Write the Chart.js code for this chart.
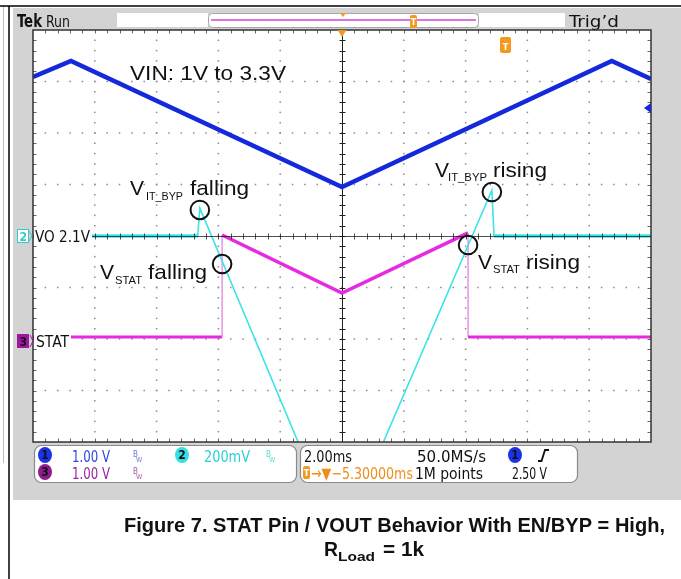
<!DOCTYPE html>
<html>
<head>
<meta charset="utf-8">
<script src="https://cdn.jsdelivr.net/npm/chart.js@4.4.1/dist/chart.umd.min.js"></script>
<style>
  body { margin: 0; background: #fff; }
  #wrap { width: 681px; height: 579px; }
</style>
</head>
<body>
<div id="wrap"><canvas id="scope" width="681" height="579"></canvas></div>
<script>
// time axis in ms (2.00 ms/div, 10 div), vertical in screen divisions (8 div)
const vinTime = [-10, -8.77, 0, 8.73, 10];
const vinDiv = [3.09, 3.40, 0.95, 3.40, 3.05];

const voTime = [-10, -4.67, -4.60, -1.42, 0, 1.34, 4.85, 4.92, 10];
const voDiv = [0, 0, 0.54, -4, null, -4, 0.89, 0, 0];

const statTime = [-10, -3.88, -3.88, 0, 4.08, 4.08, 10];
const statDiv = [-1.96, -1.96, 0.02, -1.11, 0.06, -1.96, -1.96];

const blue = "#1428dc";
const cyan = "#3ce4e8";
const magenta = "#e62ae0";
const TEK = '"DejaVu Sans Condensed","Liberation Sans Narrow","DejaVu Sans",sans-serif';
const ARIAL = '"Liberation Sans",Arial,sans-serif';

function pts(xs, ys) {
  return xs.map((x, i) => ({ x: x, y: ys[i] }));
}

// annotation texts, anchored in (ms, div)
const notes = [
  { t: -6.86, d: 0.796, sub: "IT_BYP", word: "falling", subDx: 16, subW: 37, wordDx: 60, wordW: 59 },
  { t: -7.83, d: -0.835, sub: "STAT", word: "falling", subDx: 15, subW: 27, wordDx: 48, wordW: 59 },
  { t: 3.01, d: 1.146, sub: "IT_BYP", word: "rising", subDx: 13, subW: 39, wordDx: 58, wordW: 54 },
  { t: 4.40, d: -0.64, sub: "STAT", word: "rising", subDx: 15, subW: 27, wordDx: 48, wordW: 54 }
];
const rings = [
  { t: -4.60, d: 0.505 },
  { t: -3.88, d: -0.544 },
  { t: 4.85, d: 0.854 },
  { t: 4.08, d: -0.175 }
];

function txt(c, s, x, y, font, color, w) {
  c.font = font;
  c.fillStyle = color;
  c.textAlign = "left";
  c.textBaseline = "alphabetic";
  if (w) {
    const m = c.measureText(s).width;
    c.save();
    c.translate(x, y);
    c.scale(w / m, 1);
    c.fillText(s, 0, 0);
    c.restore();
  } else {
    c.fillText(s, x, y);
  }
}

function badge(c, x, y, fill, label) {
  c.beginPath();
  c.ellipse(x, y, 7, 8, 0, 0, Math.PI * 2);
  c.fillStyle = fill;
  c.fill();
  c.font = "bold 12px " + TEK;
  c.fillStyle = "#111";
  c.textAlign = "center";
  c.textBaseline = "middle";
  c.fillText(label, x, y + 0.5);
  c.textAlign = "left";
  c.textBaseline = "alphabetic";
}

function bw(c, x, y, color) {
  txt(c, "B", x, y - 3, "8px " + TEK, color);
  txt(c, "W", x + 3, y + 2, "7px " + TEK, color);
}

function tBox(c, x, y, w, h) {
  c.fillStyle = "#f39a1e";
  c.beginPath();
  c.roundRect(x, y, w, h, 2);
  c.fill();
  c.font = "bold 9px " + TEK;
  c.fillStyle = "#fff";
  c.textAlign = "center";
  c.fillText("T", x + w / 2, y + h - 3);
  c.textAlign = "left";
}

const scopePlugin = {
  id: "scope",
  beforeDatasetsDraw(chart) {
    const c = chart.ctx;
    const a = chart.chartArea;
    const xs = chart.scales.x;
    const ys = chart.scales.y;
    c.save();
    // page
    c.fillStyle = "#fff";
    c.fillRect(0, 0, 681, 579);
    c.strokeStyle = "#bdbdbd";
    c.lineWidth = 1;
    c.beginPath(); c.moveTo(3.5, 6); c.lineTo(3.5, 463); c.stroke();
    c.strokeStyle = "#000";
    c.lineWidth = 1.5;
    c.beginPath(); c.moveTo(0, 6); c.lineTo(681, 6); c.stroke();
    c.beginPath(); c.moveTo(9, 6); c.lineTo(9, 579); c.stroke();
    // scope panel
    c.fillStyle = "#d3d3d3";
    c.fillRect(13, 8, 668, 492);
    // top bar
    txt(c, "Tek", 17, 27, "bold 17px " + TEK, "#111", 25);
    txt(c, "Run", 46, 27, "16px " + TEK, "#111", 24);
    c.fillStyle = "#fff";
    c.fillRect(117, 13, 91, 14);
    c.fillRect(479, 13, 86, 14);
    c.beginPath(); c.roundRect(208.5, 13.5, 270, 14, 4); c.fill();
    c.strokeStyle = "#a8a8a8"; c.lineWidth = 1; c.stroke();
    c.strokeStyle = "#d048d0"; c.lineWidth = 1.5;
    c.beginPath(); c.moveTo(211, 20); c.lineTo(476, 20); c.stroke();
    c.fillStyle = "#f39a1e";
    c.beginPath(); c.moveTo(340, 13); c.lineTo(346, 13); c.lineTo(343, 17); c.closePath(); c.fill();
    tBox(c, 410, 15, 7, 13);
    txt(c, "Trig\u2019d", 569, 27, "16px " + TEK, "#111", 50);
    // graticule
    c.fillStyle = "#fff";
    c.fillRect(a.left, a.top, a.right - a.left, a.bottom - a.top);
    c.fillStyle = "#8c8c8c";
    for (let t = -8; t <= 8; t += 2) {
      if (t === 0) continue;
      const x = xs.getPixelForValue(t);
      for (let k = 1; k < 40; k++) {
        const y = ys.getPixelForValue(-4 + k * 0.2);
        c.fillRect(x - 0.75, y - 0.75, 1.5, 1.5);
      }
    }
    for (let d = -3; d <= 3; d++) {
      if (d === 0) continue;
      const y = ys.getPixelForValue(d);
      for (let k = 1; k < 50; k++) {
        const x = xs.getPixelForValue(-10 + k * 0.4);
        c.fillRect(x - 0.75, y - 0.75, 1.5, 1.5);
      }
    }
    // edge ticks
    c.strokeStyle = "#666";
    c.lineWidth = 1;
    c.beginPath();
    for (let k = 1; k < 50; k++) {
      const x = Math.round(xs.getPixelForValue(-10 + k * 0.4)) + 0.5;
      c.moveTo(x, a.top); c.lineTo(x, a.top + 3.5);
      c.moveTo(x, a.bottom); c.lineTo(x, a.bottom - 3.5);
    }
    for (let k = 1; k < 40; k++) {
      const y = Math.round(ys.getPixelForValue(-4 + k * 0.2)) + 0.5;
      c.moveTo(a.left, y); c.lineTo(a.left + 3.5, y);
      c.moveTo(a.right, y); c.lineTo(a.right - 3.5, y);
    }
    c.stroke();
    // center vertical line with ticks
    const cx = Math.round(xs.getPixelForValue(0)) + 0.5;
    c.strokeStyle = "#222";
    c.beginPath();
    c.moveTo(cx, a.top); c.lineTo(cx, a.bottom);
    for (let k = 1; k < 40; k++) {
      const y = Math.round(ys.getPixelForValue(-4 + k * 0.2)) + 0.5;
      c.moveTo(cx - 3, y); c.lineTo(cx + 3, y);
    }
    c.stroke();
    c.restore();
  },
  afterDatasetsDraw(chart) {
    const c = chart.ctx;
    const a = chart.chartArea;
    const xs = chart.scales.x;
    const ys = chart.scales.y;
    const px = (t) => xs.getPixelForValue(t);
    const py = (d) => ys.getPixelForValue(d);
    c.save();
    // center horizontal line over the traces
    const cy = Math.round(py(0)) + 0.5;
    c.strokeStyle = "rgba(20,20,20,0.75)";
    c.lineWidth = 1;
    c.beginPath();
    c.moveTo(a.left, cy); c.lineTo(a.right, cy);
    for (let k = 1; k < 50; k++) {
      const x = Math.round(px(-10 + k * 0.4)) + 0.5;
      c.moveTo(x, cy - 3); c.lineTo(x, cy + 3);
    }
    c.stroke();
    // border
    c.strokeStyle = "#333";
    c.lineWidth = 1.5;
    c.strokeRect(a.left, a.top, a.right - a.left, a.bottom - a.top);
    // trigger markers
    c.fillStyle = "#f39a1e";
    c.beginPath(); c.moveTo(px(0) - 4.5, a.top); c.lineTo(px(0) + 4.5, a.top); c.lineTo(px(0), a.top + 7); c.closePath(); c.fill();
    tBox(c, 500, 37, 11, 16);
    c.fillStyle = blue;
    c.beginPath(); c.moveTo(644, 108); c.lineTo(651, 103); c.lineTo(651, 113); c.closePath(); c.fill();
    // channel labels on the left
    c.fillStyle = "#fff";
    c.fillRect(a.left + 1, py(0) - 7, 58, 13);
    c.fillRect(a.left + 1, py(-1.96) - 7, 37, 13);
    c.strokeStyle = "#2fc9cf"; c.lineWidth = 1;
    c.fillStyle = "#fff";
    c.fillRect(17.5, 229.5, 11, 13);
    c.strokeRect(17.5, 229.5, 11, 13);
    txt(c, "2", 19.5, 241, "bold 12px " + TEK, "#2fc9cf");
    c.beginPath(); c.moveTo(29, 231); c.lineTo(32, 236); c.lineTo(29, 241); c.stroke();
    txt(c, "VO 2.1V", 35, 242, "15px " + TEK, "#111", 55);
    c.fillStyle = "#9a1a9a";
    c.fillRect(17, 334, 12, 14);
    txt(c, "3", 19.5, 346, "bold 12px " + TEK, "#2a002a");
    c.strokeStyle = "#9a1a9a";
    c.beginPath(); c.moveTo(30, 335); c.lineTo(33, 341); c.lineTo(30, 347); c.stroke();
    txt(c, "STAT", 36, 347, "15px " + TEK, "#111", 33);
    // annotations
    txt(c, "VIN: 1V to 3.3V", px(-6.86), py(3.03), "21px " + ARIAL, "#111", 156);
    notes.forEach((n) => {
      const x = px(n.t), y = py(n.d);
      txt(c, "V", x, y, "21px " + ARIAL, "#111", 14);
      txt(c, n.sub, x + n.subDx, y + 4.5, "11px " + ARIAL, "#111", n.subW);
      txt(c, n.word, x + n.wordDx, y, "21px " + ARIAL, "#111", n.wordW);
    });
    c.strokeStyle = "#111";
    c.lineWidth = 2;
    rings.forEach((r) => {
      c.beginPath();
      c.arc(px(r.t), py(r.d), 9.3, 0, Math.PI * 2);
      c.stroke();
    });
    // status bar
    c.fillStyle = "#fff";
    c.strokeStyle = "#8a8a8a";
    c.lineWidth = 1.2;
    c.beginPath(); c.roundRect(34.5, 445.5, 262, 37, 7); c.fill(); c.stroke();
    c.beginPath(); c.roundRect(300.5, 445.5, 277, 37, 7); c.fill(); c.stroke();
    badge(c, 45, 455, "#1a33e6", "1");
    badge(c, 45, 472, "#8e1a8e", "3");
    badge(c, 182, 455, "#36dfe3", "2");
    badge(c, 515, 455, "#1a33e6", "1");
    txt(c, "1.00 V", 72, 462, "16px " + TEK, "#2b45e8", 38);
    txt(c, "1.00 V", 72, 479, "16px " + TEK, "#9b25a0", 38);
    txt(c, "200mV", 204, 462, "16px " + TEK, "#2cd0d6", 46);
    bw(c, 133, 460, "#6a78e0");
    bw(c, 133, 477, "#a45aa8");
    bw(c, 266, 460, "#60d8dc");
    txt(c, "2.00ms", 304, 462, "16px " + TEK, "#111", 48);
    txt(c, "50.0MS/s", 417, 462, "16px " + TEK, "#111", 69);
    c.strokeStyle = "#111"; c.lineWidth = 1.8;
    c.beginPath(); c.moveTo(538, 461); c.lineTo(541.5, 461); c.lineTo(545, 450); c.lineTo(549, 450); c.stroke();
    tBox(c, 303, 466, 7, 13);
    txt(c, "\u2192\u25BC\u22125.30000ms", 311, 479, "16px " + TEK, "#f08c1a", 102);
    txt(c, "1M points", 415, 479, "16px " + TEK, "#111", 68);
    txt(c, "2.50 V", 512, 479, "16px " + TEK, "#111", 35);
    // caption
    txt(c, "Figure 7. STAT Pin / VOUT Behavior With EN/BYP = High,", 124, 532, "bold 20px " + ARIAL, "#111", 541);
    txt(c, "R", 324, 556, "bold 20px " + ARIAL, "#111", 14);
    txt(c, "Load", 338, 561, "bold 13px " + ARIAL, "#111", 37);
    txt(c, "= 1k", 383, 556, "bold 20px " + ARIAL, "#111", 41);
    c.restore();
  }
};

const ctx = document.getElementById("scope").getContext("2d");
const scopeChart = new Chart(ctx, {
  type: "line",
  data: {
    datasets: [
      {
        label: "VO",
        data: pts(voTime, voDiv),
        borderColor: cyan,
        borderWidth: 1.6,
        pointRadius: 0,
        tension: 0,
        spanGaps: false,
        segment: {
          borderWidth: (s) => (s.p0.parsed.y === s.p1.parsed.y ? 3.5 : 1.6)
        }
      },
      {
        label: "STAT",
        data: pts(statTime, statDiv),
        borderColor: magenta,
        borderWidth: 3.5,
        pointRadius: 0,
        tension: 0,
        segment: {
          borderWidth: (s) => (s.p0.parsed.x === s.p1.parsed.x ? 1.3 : s.p0.parsed.y === s.p1.parsed.y ? 3 : 3.5),
          borderColor: (s) => (s.p0.parsed.x === s.p1.parsed.x ? "#e680e4" : magenta)
        }
      },
      {
        label: "VIN",
        data: pts(vinTime, vinDiv),
        borderColor: blue,
        borderWidth: 4.5,
        pointRadius: 0,
        tension: 0
      }
    ]
  },
  options: {
    responsive: false,
    animation: false,
    events: [],
    layout: { padding: { left: 33, right: 30, top: 30, bottom: 137 } },
    scales: {
      x: { type: "linear", min: -10, max: 10, display: false },
      y: { type: "linear", min: -4, max: 4, display: false }
    },
    plugins: {
      legend: { display: false },
      tooltip: { enabled: false }
    }
  },
  plugins: [scopePlugin]
});
</script>
</body>
</html>
